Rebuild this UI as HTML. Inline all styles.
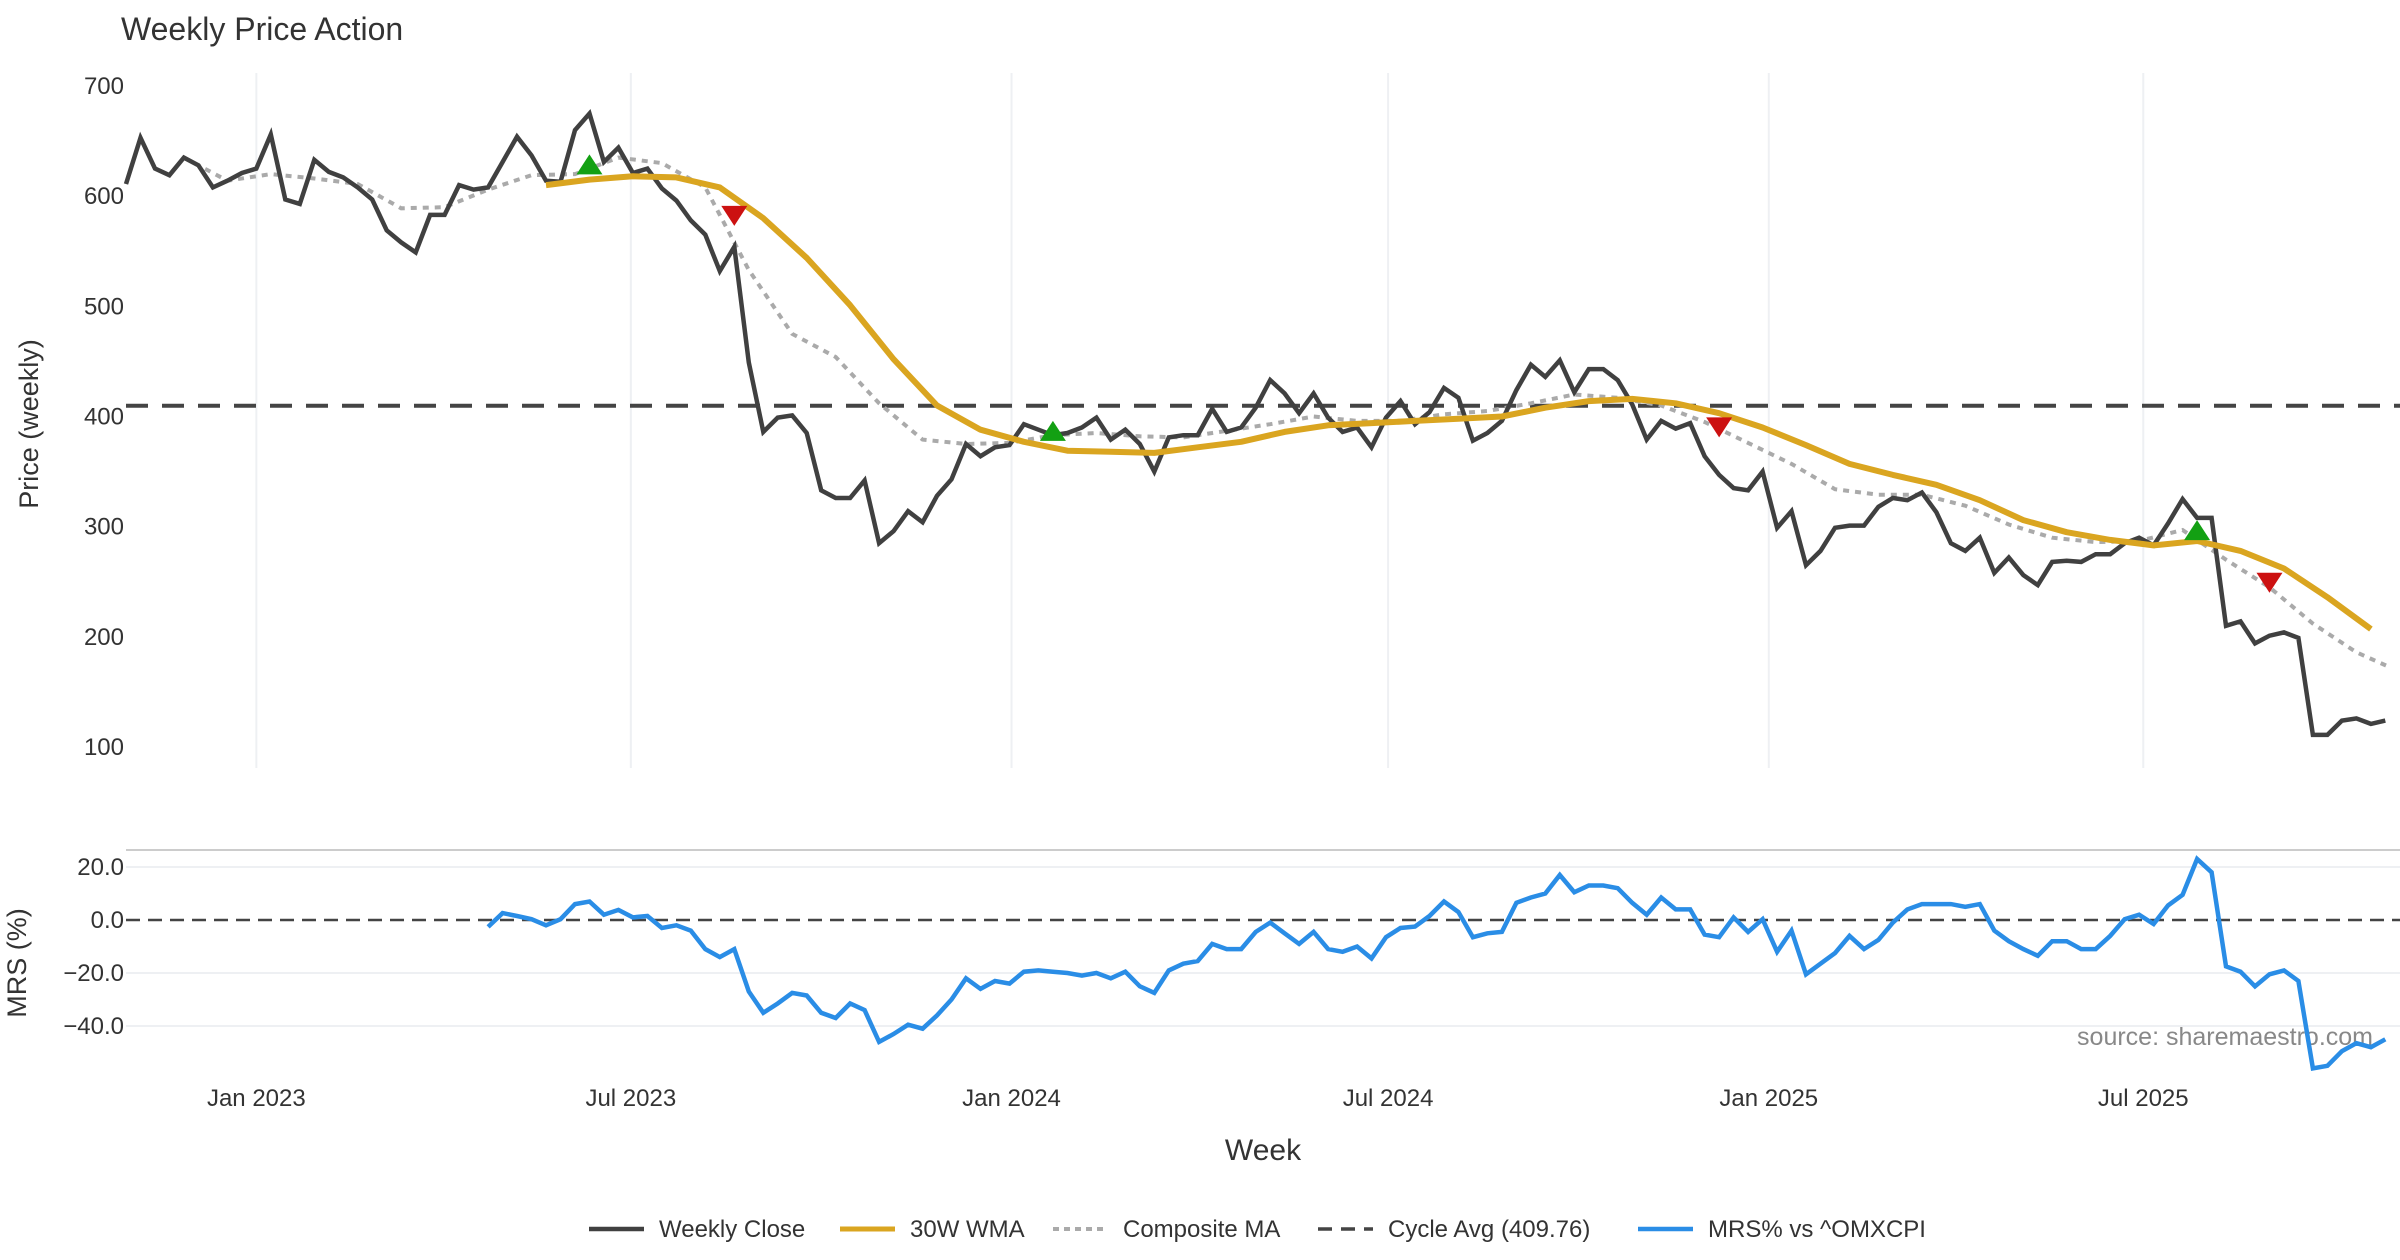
<!DOCTYPE html>
<html><head><meta charset="utf-8"><style>
html,body{margin:0;padding:0;background:#fff;}
svg{display:block;font-family:"Liberation Sans","DejaVu Sans",sans-serif;}
</style></head><body>
<svg id="chart" width="2400" height="1260" viewBox="0 0 2400 1260" xmlns="http://www.w3.org/2000/svg">
<text x="121" y="40" font-size="32" fill="#333">Weekly Price Action</text>
<text transform="translate(38,424) rotate(-90)" text-anchor="middle" font-size="27" fill="#333">Price (weekly)</text>
<text transform="translate(26,963) rotate(-90)" text-anchor="middle" font-size="27" fill="#333">MRS (%)</text>
<text x="1263" y="1160" text-anchor="middle" font-size="30" fill="#333">Week</text>
<text x="2373" y="1045" text-anchor="end" font-size="25" fill="#888">source: sharemaestro.com</text>
<line x1="126" y1="850" x2="2400" y2="850" stroke="#ccc" stroke-width="2"/>
<g id="grid"></g><g id="marks"></g><g id="legend"></g>
</svg>
<script>
const startDate = "2022-10-30";
const tickDates = ["2023-01-01","2023-07-01","2024-01-01","2024-07-01","2025-01-01","2025-07-01"];
const tickLabels = ["Jan 2023","Jul 2023","Jan 2024","Jul 2024","Jan 2025","Jul 2025"];
const priceTicks = [100,200,300,400,500,600,700];
const mrsTicks = [20,0,-20,-40];
const mrsTickLabels = ["20.0","0.0","\u221220.0","\u221240.0"];
const cycleAvg = 409.76;
const closeValues = [611,653,625,619,635,628,608,614,621,625,656,597,593,633,622,617,608,597,569,558,549,583,583,610,606,608,631,654,637,614,613,660,675,631,644,621,625,607,596,578,565,532,554,449,386,399,401,385,333,326,326,342,285,296,314,304,328,343,375,364,372,374,393,388,383,385,390,399,379,388,375,350,381,383,383,407,386,390,408,433,421,403,421,399,386,390,372,399,414,393,404,426,417,378,385,396,424,447,436,451,422,443,443,433,411,379,396,389,394,364,347,335,333,350,299,314,265,278,299,301,301,318,326,324,331,313,285,278,290,258,272,256,247,268,269,268,275,275,285,290,283,303,325,308,308,210,214,194,201,204,199,111,111,124,126,121,124];
const wmaStart = 29;
const wmaStep = 3;
const wmaValues = [610,615,618,617,608,580,544,501,452,410,388,377,369,368,367,372,377,386,392,394,396,398,400,408,414,416,412,403,390,374,357,347,338,324,306,295,288,283,287,278,262,236,207];
const compStart = 4;
const compStep = 3;
const compValues = [635,614,620,616,611,589,590,606,619,620,635,630,608,533,475,454,412,379,375,376,383,385,382,381,387,393,400,396,396,402,405,412,420,417,410,395,376,357,334,329,329,319,302,290,286,287,297,270,245,212,186,174];
const mrsStart = 25;
const mrsValues = [-2.6,2.6,1.5,0.3,-2,0.3,6,7,2,3.8,1,1.5,-3,-2,-4,-11,-14,-11,-27,-35,-31.5,-27.5,-28.5,-35,-37,-31.5,-34,-46,-43,-39.5,-41,-36,-30,-22,-26,-23,-24,-19.5,-19,-19.5,-20,-21,-20,-22,-19.5,-25,-27.5,-19,-16.5,-15.5,-9,-11,-11,-4.5,-1,-5,-9,-4.5,-11,-12,-10,-14.5,-6.5,-3,-2.5,1.5,7,3,-6.5,-5,-4.5,6.5,8.5,10,17,10.5,13,13,12,6.5,2,8.5,4,4,-5.5,-6.5,1,-4.5,0.3,-12,-4,-20.5,-16.5,-12.5,-6,-11,-7.5,-1,4,6,6,6,5,6,-4,-8,-11,-13.5,-8,-8,-11,-11,-6,0.3,2,-1.5,5.5,9.5,23,18,-17.5,-19.5,-25,-20.5,-19,-23,-56,-55,-49.5,-46.5,-48,-45];
const buyIdx = [32,64,143];
const buyVals = [628,386,296];
const sellIdx = [42,110,148];
const sellVals = [583,391,250];

const NS="http://www.w3.org/2000/svg";
const DAY=86400000, t0=Date.parse(startDate);
function xDate(s){return 126+(Date.parse(s)-t0)/DAY*2.069;}
function xIdx(i){return Math.min(2386,126+i*7*2.069);}
function yP(v){return 86+(700-v)*(661/600);}
function yM(v){return 920-v*2.65;}
function el(tag,attrs,parent){const e=document.createElementNS(NS,tag);for(const k in attrs)e.setAttribute(k,attrs[k]);parent.appendChild(e);return e;}
const grid=document.getElementById('grid'), marks=document.getElementById('marks'), legend=document.getElementById('legend');

tickDates.forEach((d,i)=>{
  const x=xDate(d);
  const g=el('line',{x1:x,y1:73,x2:x,y2:768,stroke:'#eef0f3','stroke-width':2},grid);
  
  
  const t=el('text',{x:x,y:1106,'text-anchor':'middle','font-size':24,fill:'#333'},grid);
  t.textContent=tickLabels[i];
  
  
});
priceTicks.forEach(v=>{
  const t=el('text',{x:124,y:yP(v)+8,'text-anchor':'end','font-size':24,fill:'#333'},grid);
  t.textContent=v;
  
  
});
mrsTicks.forEach((v,i)=>{
  if(v!==0){const g=el('line',{x1:126,y1:yM(v),x2:2400,y2:yM(v),stroke:'#eef0f3','stroke-width':2},grid);
  
  }
  const t=el('text',{x:124,y:yM(v)+8,'text-anchor':'end','font-size':24,fill:'#333'},grid);
  t.textContent=mrsTickLabels[i];
  
  
});
let c=el('line',{x1:126,y1:yP(cycleAvg),x2:2400,y2:yP(cycleAvg),stroke:'#444','stroke-width':4,'stroke-dasharray':'22 14'},marks);


c=el('line',{x1:126,y1:yM(0),x2:2400,y2:yM(0),stroke:'#444','stroke-width':2.5,'stroke-dasharray':'14 8'},marks);



function path(vals,start,step,yf){return vals.map((v,i)=>(i?'L':'M')+xIdx(start+i*step).toFixed(1)+' '+yf(v).toFixed(1)).join(' ');}
let p=el('path',{d:path(compValues,compStart,compStep,yP),fill:'none',stroke:'#aaa','stroke-width':4,'stroke-dasharray':'6 6'},marks);


p=el('path',{d:path(closeValues,0,1,yP),fill:'none',stroke:'#404040','stroke-width':4.5,'stroke-linejoin':'miter'},marks);


p=el('path',{d:path(wmaValues,wmaStart,wmaStep,yP),fill:'none',stroke:'#DAA520','stroke-width':6,'stroke-linejoin':'round'},marks);


p=el('path',{d:path(mrsValues,mrsStart,1,yM),fill:'none',stroke:'#2a8de6','stroke-width':4.5},marks);



buyIdx.forEach((ix,i)=>{const x=xIdx(ix),y=yP(buyVals[i]);
  const m=el('path',{d:`M${x-13} ${y+9} L${x} ${y-11} L${x+13} ${y+9} Z`,fill:'#13a013'},marks);
  
  });
sellIdx.forEach((ix,i)=>{const x=xIdx(ix),y=yP(sellVals[i]);
  const m=el('path',{d:`M${x-13} ${y-9} L${x} ${y+11} L${x+13} ${y-9} Z`,fill:'#cc1111'},marks);
  
  });

const legItems=[{x:589,label:'Weekly Close',stroke:'#404040',dash:'',w:4.5},{x:840,label:'30W WMA',stroke:'#DAA520',dash:'',w:5},{x:1053,label:'Composite MA',stroke:'#aaa',dash:'6 5',w:4},{x:1318,label:'Cycle Avg (409.76)',stroke:'#444',dash:'14 9',w:3.5},{x:1638,label:'MRS% vs ^OMXCPI',stroke:'#2a8de6',dash:'',w:4.5}];
legItems.forEach(it=>{
  const l=el('line',{x1:it.x,y1:1229,x2:it.x+55,y2:1229,stroke:it.stroke,'stroke-width':it.w,'stroke-dasharray':it.dash},legend);
  
  
  const t=el('text',{x:it.x+70,y:1237,'font-size':24,fill:'#333'},legend);
  t.textContent=it.label;
  
  
});
</script>
</body></html>
